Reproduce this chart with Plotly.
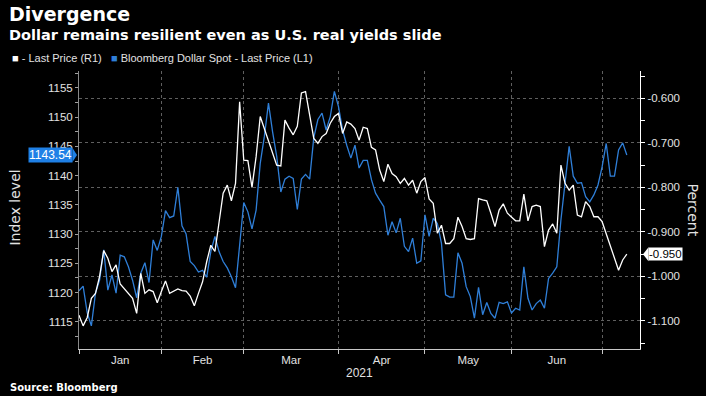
import pandas as pd
import plotly.graph_objects as go

# ---- data ----
dates = [d.strftime("%Y-%m-%d") for d in pd.bdate_range("2021-01-04", "2021-07-09") if d.strftime("%Y-%m-%d") != "2021-04-02"]

dollar_spot = [
    1120.3, 1121.1, 1116.5, 1114.3, 1119.9, 1122.1, 1127.3, 1120.4, 1123.0, 1119.9,
    1126.4, 1126.1, 1124.4, 1122.1, 1119.1, 1123.3, 1125.1, 1121.7, 1129.0, 1127.2,
    1129.6, 1134.0, 1132.8, 1133.1, 1138.0, 1131.4, 1130.0, 1125.3, 1124.6, 1123.5,
    1123.8, 1122.6, 1127.0, 1129.6, 1127.0, 1125.3, 1124.2, 1122.7, 1120.8, 1128.5,
    1135.4, 1133.8, 1130.9, 1134.1, 1142.1, 1146.7, 1152.4, 1147.5, 1143.3, 1137.2,
    1139.4, 1139.9, 1139.5, 1134.2, 1139.4, 1140.2, 1139.4, 1146.5, 1149.6, 1150.7,
    1147.8, 1150.1, 1154.4, 1151.8, 1147.8, 1145.2, 1143.0, 1145.2, 1141.3, 1142.6,
    1142.6, 1139.3, 1137.0, 1135.8, 1134.7, 1129.8, 1132.1, 1130.2, 1132.7, 1127.9,
    1127.0, 1129.3, 1125.0, 1125.4, 1133.3, 1129.6, 1132.7, 1131.8, 1128.4, 1119.6,
    1119.2, 1119.2, 1126.8, 1125.0, 1121.0, 1119.3, 1115.6, 1120.9, 1116.2, 1118.3,
    1116.4, 1115.6, 1118.3, 1118.1, 1118.4, 1116.5, 1117.3, 1117.0, 1124.4, 1119.0,
    1117.0, 1118.1, 1118.7, 1117.3, 1122.4, 1123.3, 1124.4, 1132.4, 1139.3, 1145.0,
    1139.9, 1138.7, 1138.8, 1136.4, 1135.5, 1136.7, 1138.4, 1141.5, 1145.5, 1139.9,
    1139.9, 1144.4, 1145.6, 1143.54,
]

real_yield = [
    -1.087, -1.111, -1.092, -1.049, -1.038, -1.000, -0.942, -0.959, -0.989, -0.974,
    -1.017, -1.027, -1.038, -1.049, -1.083, -0.993, -1.038, -1.030, -1.034, -1.059,
    -1.034, -1.010, -1.038, -1.032, -1.028, -1.032, -1.033, -1.044, -1.066, -1.038,
    -1.012, -0.967, -0.930, -0.944, -0.873, -0.813, -0.795, -0.830, -0.791, -0.608,
    -0.739, -0.740, -0.800, -0.731, -0.641, -0.667, -0.697, -0.724, -0.750, -0.752,
    -0.649, -0.667, -0.682, -0.663, -0.588, -0.585, -0.635, -0.690, -0.701, -0.686,
    -0.679, -0.656, -0.641, -0.634, -0.679, -0.653, -0.658, -0.668, -0.694, -0.665,
    -0.668, -0.710, -0.716, -0.761, -0.787, -0.748, -0.769, -0.776, -0.791, -0.780,
    -0.795, -0.784, -0.813, -0.787, -0.778, -0.826, -0.836, -0.903, -0.885, -0.926,
    -0.926, -0.915, -0.867, -0.888, -0.915, -0.917, -0.915, -0.825, -0.828, -0.830,
    -0.858, -0.888, -0.851, -0.837, -0.858, -0.867, -0.875, -0.875, -0.815, -0.875,
    -0.843, -0.840, -0.843, -0.933, -0.896, -0.882, -0.903, -0.750, -0.791, -0.806,
    -0.795, -0.862, -0.866, -0.832, -0.843, -0.866, -0.866, -0.877, -0.903, -0.933,
    -0.959, -0.986, -0.963, -0.950,
]

month_labels = ["Jan", "Feb", "Mar", "Apr", "May", "Jun"]
left_ticks = [1115, 1120, 1125, 1130, 1135, 1140, 1145, 1150, 1155]
right_ticks = [-1.1, -1.0, -0.9, -0.8, -0.7, -0.6]
right_ticktext = ["-1.100", "-1.000", "-0.900", "-0.800", "-0.700", "-0.600"]

# ---- derived positions (trading-day index axis) ----
x = list(range(len(dates)))
month_starts = [i for i, d in enumerate(dates) if i == 0 or d[:7] != dates[i - 1][:7]]
month_mid = [(month_starts[k] + month_starts[k + 1]) / 2 for k in range(len(month_labels))]

BLUE = "#2f7fd8"
BOX_BLUE = "#1f80e6"
GRID = "#5f5f5f"
TXT = "#e2e2e2"
FONT = "Liberation Sans"

fig = go.Figure()
fig.add_trace(go.Scatter(x=x, y=dollar_spot, mode="lines", yaxis="y",
                         line=dict(color=BLUE, width=1.3), customdata=dates,
                         hovertemplate="%{customdata}: %{y}<extra></extra>",
                         name="Bloomberg Dollar Spot - Last Price (L1)", showlegend=False))
fig.add_trace(go.Scatter(x=x, y=real_yield, mode="lines", yaxis="y2",
                         line=dict(color="#ffffff", width=1.3), customdata=dates,
                         hovertemplate="%{customdata}: %{y}<extra></extra>",
                         name="- Last Price (R1)", showlegend=False))

L, R, T, B = 79.3, 66.4, 71, 47
W, H = 706, 396
pw, ph = W - L - R, H - T - B


def px_x(p):
    return (p - L) / pw


def px_y(p):
    return (H - B - p) / ph


fig.update_layout(
    width=W, height=H,
    margin=dict(l=L, r=R, t=T, b=B, pad=0),
    paper_bgcolor="#000000", plot_bgcolor="#000000",
    font=dict(family=FONT, color=TXT, size=11),
    showlegend=False,
    xaxis=dict(
        range=[0, 136.2], tickmode="array", tickvals=month_mid, ticktext=month_labels,
        ticks="", showgrid=False, zeroline=False, showline=True, linecolor="#c8c8c8",
        linewidth=1, tickfont=dict(size=11.5, color=TXT),
        minor=dict(tickmode="array", tickvals=month_starts, ticks="outside", ticklen=4,
                   tickcolor="#c8c8c8", showgrid=True, gridcolor=GRID, griddash="dot",
                   gridwidth=1),
    ),
    yaxis=dict(
        range=[1110.33, 1157.9], tickmode="array", tickvals=left_ticks,
        ticks="outside", ticklen=3, tickcolor="#a0a0a0", showgrid=False, zeroline=False,
        showline=True, linecolor="#8a8a8a", linewidth=1, tickfont=dict(size=11.5, color=TXT),
        minor=dict(dtick=2.5, tick0=1110, ticks="outside", ticklen=3, tickcolor="#a0a0a0",
                   showgrid=False),
    ),
    yaxis2=dict(
        range=[-1.1629, -0.5387], overlaying="y", side="right", anchor="x",
        tickmode="array", tickvals=right_ticks, ticktext=right_ticktext,
        ticks="outside", ticklen=4, tickcolor="#ffffff", showgrid=True, gridcolor=GRID,
        griddash="dot", gridwidth=1, zeroline=False, showline=True, linecolor="#ffffff",
        linewidth=1.2, tickfont=dict(size=11.5, color=TXT),
        minor=dict(dtick=0.05, tick0=-1.2, ticks="outside", ticklen=4, tickcolor="#ffffff",
                   showgrid=False),
    ),
)

ann = []
ann.append(dict(text="<b>Divergence</b>", x=px_x(7), y=px_y(14), xref="paper", yref="paper",
                xanchor="left", yanchor="middle", showarrow=False,
                font=dict(family="DejaVu Sans", size=19, color="#ffffff")))
ann.append(dict(text="<b>Dollar remains resilient even as U.S. real yields slide</b>",
                x=px_x(7), y=px_y(35), xref="paper", yref="paper",
                xanchor="left", yanchor="middle", showarrow=False,
                font=dict(family="DejaVu Sans", size=14.5, color="#ffffff")))
ann.append(dict(text="<span style='color:#ffffff'>■</span> - Last Price (R1)   "
                     "<span style='color:" + BLUE + "'>■</span> Bloomberg Dollar Spot - Last Price (L1)",
                x=px_x(10), y=px_y(58), xref="paper", yref="paper",
                xanchor="left", yanchor="middle", showarrow=False,
                font=dict(family=FONT, size=11, color=TXT)))
ann.append(dict(text="<b>Source: Bloomberg</b>", x=px_x(8), y=px_y(387), xref="paper", yref="paper",
                xanchor="left", yanchor="middle", showarrow=False,
                font=dict(family="DejaVu Sans", size=10, color="#ffffff")))
ann.append(dict(text="2021", x=0.5, y=px_y(373), xref="paper", yref="paper",
                xanchor="center", yanchor="middle", showarrow=False,
                font=dict(family=FONT, size=12, color=TXT)))
ann.append(dict(text="Index level", x=px_x(15), y=px_y(208), xref="paper", yref="paper",
                xanchor="center", yanchor="middle", showarrow=False, textangle=-90,
                font=dict(family="DejaVu Sans", size=14, color=TXT)))
ann.append(dict(text="Percent", x=px_x(693), y=px_y(210), xref="paper", yref="paper",
                xanchor="center", yanchor="middle", showarrow=False, textangle=90,
                font=dict(family="DejaVu Sans", size=14, color=TXT)))
# last value labels
ann.append(dict(text=f"{dollar_spot[-1]:.2f}", x=0, y=dollar_spot[-1], xref="paper", yref="y",
                xanchor="right", yanchor="middle", xshift=-6, showarrow=False,
                bgcolor=BOX_BLUE, borderpad=0, font=dict(family=FONT, size=12, color="#ffffff")))
ann.append(dict(text=f"{real_yield[-1]:.3f}", x=1, y=real_yield[-1], xref="paper", yref="y2",
                xanchor="left", yanchor="middle", xshift=8, showarrow=False,
                bgcolor="#ffffff", borderpad=0, font=dict(family=FONT, size=11.5, color="#000000")))
fig.update_layout(annotations=ann)

fig.add_shape(type="path", xref="paper", yref="y", xsizemode="pixel", ysizemode="pixel",
              xanchor=0, yanchor=dollar_spot[-1], path="M -6.5 -7 L -2 0 L -6.5 7 Z",
              fillcolor=BOX_BLUE, line=dict(width=0), layer="above")
fig.add_shape(type="path", xref="paper", yref="y2", xsizemode="pixel", ysizemode="pixel",
              xanchor=1, yanchor=real_yield[-1], path="M 8.5 -7 L 3 0 L 8.5 7 Z",
              fillcolor="#ffffff", line=dict(width=0), layer="above")

fig.write_html("out.html", config={"displayModeBar": False},
               post_script="document.body.style.margin='0px';document.body.style.background='#000';")
